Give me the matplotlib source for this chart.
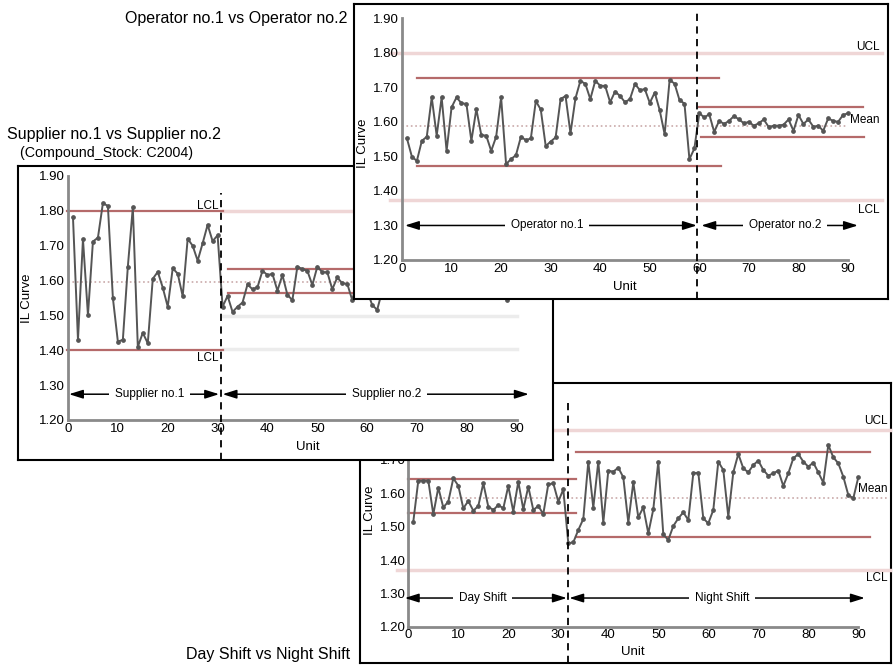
import matplotlib
matplotlib.use("Agg")
import matplotlib.pyplot as plt
import numpy as np

plt.rcParams["font.family"] = ["Liberation Sans", "DejaVu Sans"]

# ---- data ----
units = np.arange(1, 91)
x_ticks = [0, 10, 20, 30, 40, 50, 60, 70, 80, 90]
y_ticks = [1.20, 1.30, 1.40, 1.50, 1.60, 1.70, 1.80, 1.90]

supplier_values = [
    1.781, 1.430, 1.719, 1.501, 1.712, 1.723, 1.822, 1.814, 1.550, 1.425,
    1.430, 1.640, 1.810, 1.410, 1.450, 1.420, 1.605, 1.625, 1.580, 1.525,
    1.635, 1.620, 1.555, 1.720, 1.700, 1.657, 1.707, 1.760, 1.713, 1.730,
    1.525, 1.556, 1.510, 1.525, 1.537, 1.589, 1.575, 1.581, 1.628, 1.616,
    1.619, 1.571, 1.616, 1.559, 1.544, 1.640, 1.633, 1.628, 1.587, 1.640,
    1.624, 1.624, 1.575, 1.609, 1.592, 1.591, 1.544, 1.600, 1.580, 1.570,
    1.530, 1.516, 1.570, 1.600, 1.590, 1.620, 1.580, 1.610, 1.600, 1.570,
    1.620, 1.600, 1.590, 1.630, 1.580, 1.610, 1.590, 1.600, 1.620, 1.570,
    1.600, 1.610, 1.580, 1.620, 1.600, 1.590, 1.570, 1.544, 1.580, 1.600,
]
operator_values = [
    1.552, 1.499, 1.487, 1.545, 1.557, 1.671, 1.560, 1.671, 1.516, 1.642,
    1.671, 1.654, 1.652, 1.545, 1.637, 1.562, 1.560, 1.516, 1.557, 1.671,
    1.478, 1.492, 1.504, 1.557, 1.547, 1.552, 1.660, 1.636, 1.530, 1.543,
    1.555, 1.666, 1.675, 1.567, 1.668, 1.719, 1.710, 1.666, 1.719, 1.705,
    1.704, 1.657, 1.688, 1.675, 1.657, 1.666, 1.710, 1.692, 1.695, 1.655,
    1.685, 1.634, 1.564, 1.721, 1.711, 1.663, 1.653, 1.492, 1.523, 1.625,
    1.613, 1.622, 1.571, 1.603, 1.594, 1.603, 1.617, 1.607, 1.596, 1.600,
    1.589, 1.596, 1.607, 1.585, 1.589, 1.589, 1.592, 1.607, 1.574, 1.620,
    1.594, 1.607, 1.586, 1.589, 1.574, 1.610, 1.603, 1.600, 1.620, 1.625,
]
shift_values = [
    1.515, 1.638, 1.638, 1.638, 1.537, 1.617, 1.558, 1.575, 1.645, 1.623,
    1.555, 1.577, 1.548, 1.562, 1.630, 1.560, 1.550, 1.565, 1.555, 1.622,
    1.545, 1.635, 1.552, 1.620, 1.550, 1.562, 1.538, 1.627, 1.630, 1.575,
    1.612, 1.450, 1.453, 1.490, 1.523, 1.695, 1.557, 1.695, 1.512, 1.668,
    1.665, 1.677, 1.648, 1.512, 1.633, 1.528, 1.558, 1.480, 1.552, 1.695,
    1.477, 1.460, 1.502, 1.525, 1.543, 1.520, 1.660, 1.662, 1.525, 1.510,
    1.550, 1.695, 1.670, 1.530, 1.663, 1.718, 1.675, 1.663, 1.685, 1.698,
    1.670, 1.653, 1.660, 1.668, 1.622, 1.660, 1.705, 1.718, 1.695, 1.680,
    1.692, 1.663, 1.632, 1.745, 1.708, 1.690, 1.650, 1.595, 1.585, 1.648,
]

# first unit of the second group in each panel
supplier_split = 31
operator_split = 60
shift_split = 32

# control limits (upper, lower) per group, and mean / outer limits
supplier_limits = [(1.800, 1.400), (1.632, 1.565)]
supplier_mean = 1.595
supplier_outer = [1.800, 1.498, 1.403]

operator_limits = [(1.728, 1.472), (1.642, 1.555)]
operator_mean = 1.588
operator_outer = [1.800, 1.374]

shift_limits = [(1.642, 1.540), (1.725, 1.470)]
shift_mean = 1.585
shift_outer = [1.790, 1.370]

W, H = 894, 665
RED = "#b56a6a"
FAINT = "#efd6d6"
LINE = "#555555"


def box(x0, y0, x1, y1):
    # pixel box (top-left origin) -> figure fraction
    return [x0 / W, 1 - y1 / H, (x1 - x0) / W, (y1 - y0) / H]


def make_panel(fig, card_px, plot_px, z, shown_ticks=y_ticks, unit_x=0.5):
    card = fig.add_axes(box(*card_px))
    card.set_zorder(z)
    card.set_facecolor("white")
    card.set_xticks([])
    card.set_yticks([])
    for s in card.spines.values():
        s.set_linewidth(1.5)
        s.set_color("black")

    ax = fig.add_axes(box(*plot_px))
    ax.set_zorder(z + 1)
    ax.set_facecolor("none")
    ax.set_xlim(0, 90)
    ax.set_ylim(1.20, 1.90)
    ax.set_xticks(x_ticks)
    ax.set_yticks(shown_ticks)
    ax.set_yticklabels([f"{v:.2f}" for v in shown_ticks])
    ax.tick_params(length=0, labelsize=9.5, pad=2)
    for side in ["top", "right"]:
        ax.spines[side].set_visible(False)
    for side in ["left", "bottom"]:
        ax.spines[side].set_color("#8a8a8a")
        ax.spines[side].set_linewidth(2)
    ax.text(unit_x, -0.11, "Unit", transform=ax.transAxes, ha="center",
            va="center", fontsize=9.5)
    return ax


def hline(ax, y, x0, x1, color=RED, lw=1.6, ls="-"):
    ax.plot([x0, x1], [y, y], color=color, lw=lw, ls=ls, clip_on=False,
            zorder=1)


def arrow(ax, y, x0, x1, label, xc):
    ax.annotate("", xy=(x1, y), xytext=(x0, y), annotation_clip=False,
                arrowprops=dict(arrowstyle="<|-|>,head_length=0.7,head_width=0.22",
                                color="black", lw=1.1, shrinkA=0, shrinkB=0,
                                mutation_scale=12))
    ax.text(xc, y, label, ha="center", va="center", fontsize=8.5, zorder=5,
            bbox=dict(facecolor="white", edgecolor="none", pad=4))


def series(ax, values):
    ax.plot(units, values, color=LINE, lw=1.4, marker="o", ms=2.4,
            zorder=3, clip_on=False)


fig = plt.figure(figsize=(W / 100, H / 100), dpi=100)

# ---- Day shift vs night shift (bottom layer) ----
# its 1.80 / 1.90 labels sit under the supplier panel, so leave them out
ax3 = make_panel(fig, (360, 383, 891, 663), (408.3, 393.3, 858.3, 626.7), 0,
                 shown_ticks=y_ticks[:6])
for lvl in shift_outer:
    hline(ax3, lvl, -2.3, 96.3, color=FAINT, lw=2.5)
hline(ax3, shift_mean, 0, 96, color="#c9a9a9", lw=1.2, ls=":")
hline(ax3, shift_limits[0][0], 0, 33.5)
hline(ax3, shift_limits[0][1], 0, 33.5)
hline(ax3, shift_limits[1][0], 33.5, 92.3)
hline(ax3, shift_limits[1][1], 33.5, 92.3)
series(ax3, shift_values)
ax3.plot([shift_split - 0.1] * 2, [1.091, 1.886], color="black", lw=1.3,
         ls=(0, (4, 3)), clip_on=False, zorder=4)
arrow(ax3, 1.286, -0.7, shift_split - 0.3, "Day Shift", 14.9)
arrow(ax3, 1.286, shift_split + 0.2, 91.3, "Night Shift", 62.7)
ax3.text(95.9, 1.818, "UCL", ha="right", va="center", fontsize=8.5)
ax3.text(95.9, 1.612, "Mean", ha="right", va="center", fontsize=8.5)
ax3.text(95.9, 1.345, "LCL", ha="right", va="center", fontsize=8.5)
ax3.text(-0.085, 0.5, "IL Curve", transform=ax3.transAxes, rotation=90,
         ha="center", va="center", fontsize=9.5)

# ---- Supplier no.1 vs Supplier no.2 (middle layer) ----
ax1 = make_panel(fig, (18, 166, 553, 460), (68, 176, 516.8, 420), 2,
                 unit_x=0.535)
hline(ax1, supplier_outer[0], supplier_split, 90, color=FAINT, lw=2.5)
for lvl in supplier_outer[1:]:
    hline(ax1, lvl, supplier_split, 90, color="#ececec", lw=2.5)
hline(ax1, supplier_mean, 0, 90, color="#c9a9a9", lw=1.2, ls=":")
hline(ax1, supplier_limits[0][0], -0.3, 31)
hline(ax1, supplier_limits[0][1], -0.3, 31)
hline(ax1, supplier_limits[1][0], 32, 92)
hline(ax1, supplier_limits[1][1], 32, 92)
series(ax1, supplier_values)
ax1.plot([supplier_split - 0.3] * 2, [1.085, 1.85], color="black", lw=1.3,
         ls=(0, (4, 3)), clip_on=False, zorder=4)
arrow(ax1, 1.274, 0.2, supplier_split - 0.7, "Supplier no.1", 16.3)
arrow(ax1, 1.274, supplier_split, 92.4, "Supplier no.2", 63.9)
ax1.text(30.1, 1.815, "LCL", ha="right", va="center", fontsize=8.5)
ax1.text(30.1, 1.377, "LCL", ha="right", va="center", fontsize=8.5)
ax1.text(-0.092, 0.5, "IL Curve", transform=ax1.transAxes, rotation=90,
         ha="center", va="center", fontsize=9.5)

# ---- Operator no.1 vs Operator no.2 (top layer) ----
ax2 = make_panel(fig, (354, 4, 888, 299), (402, 18.3, 848, 260), 4)
for lvl in operator_outer:
    hline(ax2, lvl, -2.4, 96.8, color=FAINT, lw=2.5)
hline(ax2, operator_mean, 0, 90, color="#c9a9a9", lw=1.2, ls=":")
hline(ax2, operator_limits[0][0], 3, 64)
hline(ax2, operator_limits[0][1], 3, 64.3)
hline(ax2, operator_limits[1][0], 60, 93)
hline(ax2, operator_limits[1][1], 60.3, 93.3)
series(ax2, operator_values)
ax2.plot([operator_split - 0.4] * 2, [1.087, 1.915], color="black", lw=1.3,
         ls=(0, (4, 3)), clip_on=False, zorder=4)
arrow(ax2, 1.30, 0.6, operator_split - 0.5, "Operator no.1", 29.3)
arrow(ax2, 1.30, operator_split + 0.4, 92, "Operator no.2", 77.3)
ax2.text(96.4, 1.818, "UCL", ha="right", va="center", fontsize=8.5)
ax2.text(96.4, 1.605, "Mean", ha="right", va="center", fontsize=8.5)
ax2.text(96.4, 1.345, "LCL", ha="right", va="center", fontsize=8.5)
ax2.text(-0.087, 0.484, "IL Curve", transform=ax2.transAxes, rotation=90,
         ha="center", va="center", fontsize=9.5)

# ---- titles ----
fig.text(347 / W, 1 - 19 / H, "Operator no.1 vs Operator no.2",
         ha="right", va="center", fontsize=11.5)
fig.text(7 / W, 1 - 135 / H, "Supplier no.1 vs Supplier no.2",
         ha="left", va="center", fontsize=11.5)
fig.text(107 / W, 1 - 153 / H, "(Compound_Stock: C2004)",
         ha="center", va="center", fontsize=10.3)
fig.text(350 / W, 1 - 654 / H, "Day Shift vs Night Shift",
         ha="right", va="center", fontsize=11.5)

fig.savefig("out.png", dpi=100)
